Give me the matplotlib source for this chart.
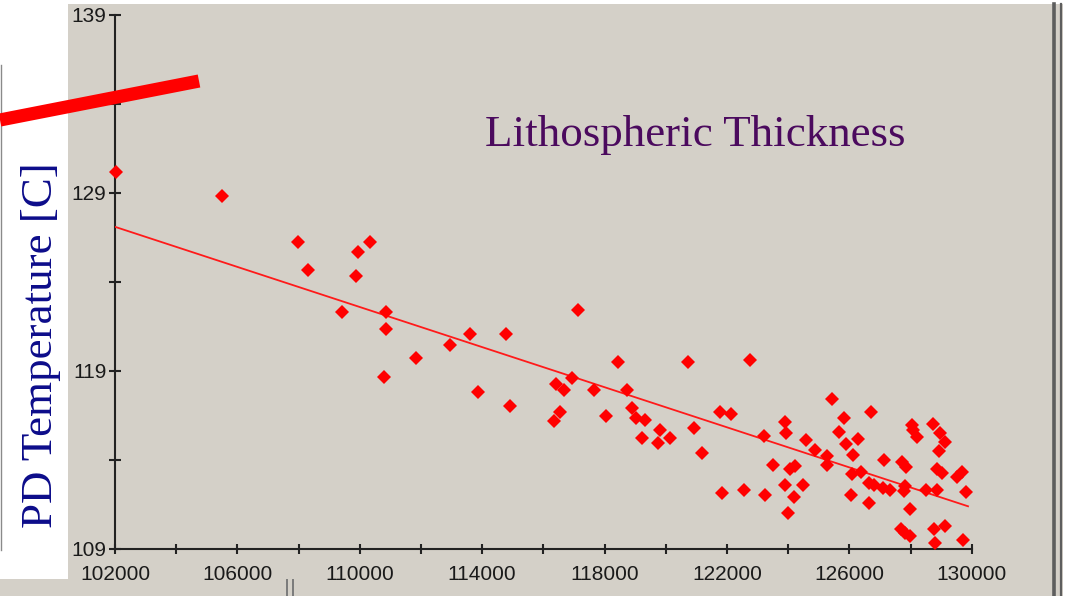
import matplotlib.pyplot as plt
from matplotlib.lines import Line2D
from matplotlib.patches import Rectangle

# lithospheric thickness [m] and present-day temperature [C] for each sample
thickness = [
    102020, 105500, 107980, 108310, 110330, 109930, 109880, 109430, 110860, 110850,
    111840, 110780, 117140, 113600, 114790, 112960, 118450, 120740, 122760, 116940,
    116410, 116680, 117660, 118730, 113870, 114920, 116550, 116350, 118060, 118910,
    119040, 119320, 119820, 119230, 119760, 120150, 120930, 121190, 121780, 122120,
    123220, 121850, 122570, 123230, 123890, 123940, 123490, 124070, 124220, 123890,
    124480, 124200, 124000, 124590, 124870, 125260, 125260, 125450, 125820, 125650,
    125890, 126040, 126700, 126300, 126110, 126090, 126370, 126630, 126810, 126630,
    127140, 127110, 127330, 127720, 127850, 127830, 127790, 127990, 128050, 128090,
    128220, 128720, 128960, 129120, 128930, 128860, 129020, 128500, 128870, 129510,
    129670, 129810, 127700, 127830, 127970, 128780, 129120, 128800, 129700,
]
temperature = [
    130.20, 128.85, 126.26, 124.68, 126.26, 125.68, 124.35, 122.30, 122.30, 121.38,
    119.71, 118.68, 122.42, 121.08, 121.08, 120.48, 119.49, 119.49, 119.60, 118.59,
    118.25, 117.91, 117.91, 117.93, 117.80, 117.01, 116.71, 116.20, 116.47, 116.92,
    116.36, 116.23, 115.66, 115.21, 114.95, 115.21, 115.78, 114.42, 116.69, 116.56,
    115.34, 112.15, 112.29, 112.04, 116.15, 115.53, 113.73, 113.52, 113.65, 112.62,
    112.62, 111.93, 111.03, 115.10, 114.54, 114.20, 113.71, 117.44, 116.34, 115.55,
    114.89, 112.02, 116.68, 115.19, 114.29, 113.19, 113.30, 112.71, 112.57, 111.59,
    113.99, 112.40, 112.29, 113.88, 113.58, 112.53, 112.25, 111.27, 115.96, 115.68,
    115.27, 116.02, 115.49, 115.00, 114.51, 113.47, 113.28, 112.30, 112.29, 113.02,
    113.33, 112.21, 110.13, 109.92, 109.71, 110.13, 110.28, 109.34, 109.49,
]

# end points of the linear trend
fit_thickness = [102000, 129880]
fit_temperature = [127.1, 111.4]

x_major = [102000, 106000, 110000, 114000, 118000, 122000, 126000, 130000]
x_minor = [104000, 108000, 112000, 116000, 120000, 124000, 128000]
y_major = [109, 119, 129, 139]
y_minor = [114, 124, 134]

W, H = 1065, 596
PANEL = '#d4d0c8'
INK = '#222222'


def fx(x):
    return x / W


def fy(y):
    return 1 - y / H


fig = plt.figure(figsize=(W / 100, H / 100), dpi=100, facecolor='white')

# grey panel behind the plot, white margin on the left
fig.add_artist(Rectangle((fx(68), 0), fx(1063) - fx(68), fy(4), transform=fig.transFigure,
                         facecolor=PANEL, edgecolor='none', zorder=0))
fig.add_artist(Rectangle((0, 0), fx(68), fy(579), transform=fig.transFigure,
                         facecolor=PANEL, edgecolor='none', zorder=0))
fig.add_artist(Line2D([fx(0.5), fx(0.5)], [fy(65), fy(550)], transform=fig.transFigure,
                      color='#8a8a8a', lw=1))
for xp, lw in [(1053.5, 2.6), (1061, 1.6)]:
    fig.add_artist(Line2D([fx(xp), fx(xp)], [fy(4), 0], transform=fig.transFigure,
                          color='#5e5e5e', lw=lw))
for xp in [287, 293]:
    fig.add_artist(Line2D([fx(xp), fx(xp)], [fy(580), 0], transform=fig.transFigure,
                          color='#7a7a7a', lw=1.4))

ax = fig.add_axes([fx(115), fy(549), fx(971.7) - fx(115), fy(15) - fy(549)])
ax.set_facecolor('none')

ax.plot(fit_thickness, fit_temperature, color='#ff1a1a', lw=1.3, zorder=3)
ax.plot(thickness, temperature, linestyle='none', marker='D', markersize=6.8,
        markeredgewidth=0, color='#ff0000', clip_on=False, zorder=4)

ax.set_xlim(102000, 130000)
ax.set_ylim(109, 139)
ax.set_xticks(x_major)
ax.set_xticklabels([str(v) for v in x_major])
ax.set_xticks(x_minor, minor=True)
ax.set_yticks(y_major)
ax.set_yticklabels([str(v) for v in y_major])
ax.set_yticks(y_minor, minor=True)

for side in ['top', 'right']:
    ax.spines[side].set_visible(False)
for side in ['left', 'bottom']:
    ax.spines[side].set_color(INK)
    ax.spines[side].set_linewidth(1.5)

ax.tick_params(axis='both', which='both', direction='inout', color=INK, width=1.5,
               labelcolor='#1a1a1a', labelsize=15)
ax.tick_params(axis='y', which='both', length=8.5, pad=2)
ax.tick_params(axis='x', which='both', length=6.5, pad=8.5)
for lab in ax.get_xticklabels() + ax.get_yticklabels():
    lab.set_fontfamily('Liberation Sans')

fig.text(fx(695), fy(146), 'Lithospheric Thickness', ha='center', va='baseline',
         fontsize=32.4, family='Liberation Serif', color='#4b0a5e')
fig.text(fx(52), fy(345), 'PD Temperature [C]', rotation=90, rotation_mode='anchor',
         ha='center', va='baseline', fontsize=32.4, family='Liberation Serif',
         color='#0c0c8a')

# red slash across the upper left corner
fig.add_artist(Line2D([fx(0), fx(199)], [fy(120), fy(81)], transform=fig.transFigure,
                      color='#ff0000', lw=9.5, solid_capstyle='butt', zorder=10))

fig.savefig('out.png', dpi=100, facecolor=fig.get_facecolor())
